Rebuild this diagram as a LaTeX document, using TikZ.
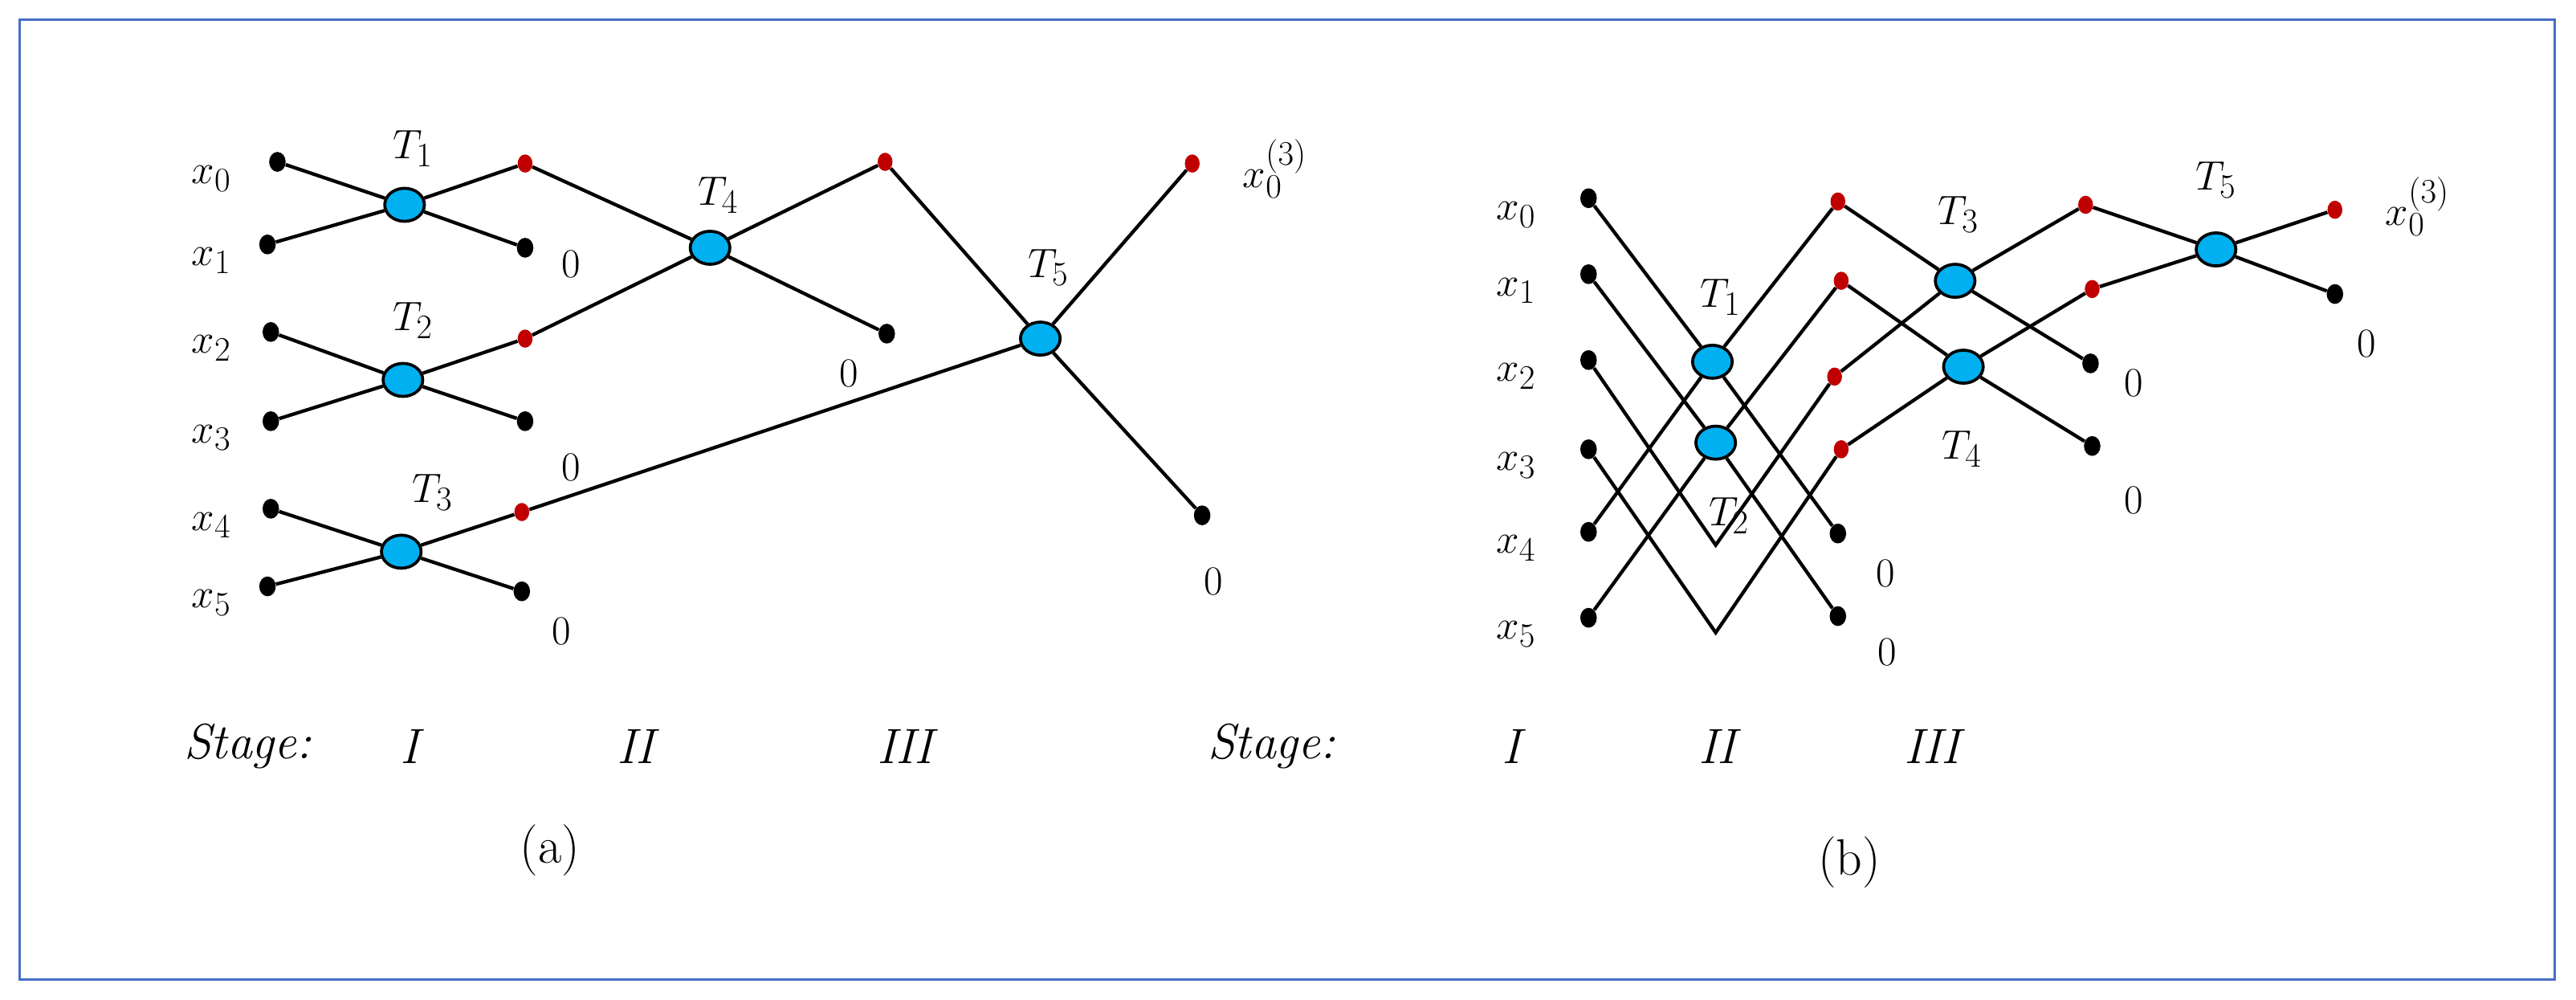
\documentclass[tikz,border=0pt]{standalone}
\usepackage{tikz}
\usetikzlibrary{positioning,shapes.geometric}
\definecolor{tw}{RGB}{0,176,240}
\definecolor{dr}{RGB}{192,0,0}
\definecolor{frame}{RGB}{70,110,200}
\tikzset{
   bdot/.style = {%
    shape=ellipse, fill=black, inner sep=0pt,
    minimum width=10pt, minimum height=12pt},
   rdot/.style = {%
    shape=ellipse, fill=dr, inner sep=0pt,
    minimum width=9pt, minimum height=11pt},
  tnode/.style = {%
    shape=ellipse, fill=tw, draw=black, line width=1.8pt, inner sep=0pt,
    minimum width=24pt, minimum height=20pt},
   lab/.style = {font=\fontsize{31}{36}\selectfont, inner sep=0pt},
   stg/.style = {font=\fontsize{30}{36}\selectfont\itshape, inner sep=0pt},
  wire/.style = {line width=2.1pt},
}
\begin{document}
\begin{tikzpicture}[x=1pt, y=-1pt]
    \useasboundingbox (0,0) rectangle (1560,605);
    \draw[frame, line width=1.5pt] (12,12) rectangle (1547,593);
    % (a)
    \foreach \i/\x/\y in {0/168/98, 1/162/148, 2/164/201, 3/164/255, 4/164/308, 5/162/355} {
        \node[bdot] (ax\i) at (\x,\y) {};
        \node[lab] at (128,\y+10) {$x_{\i}$};
    }
    \node[tnode] (aT1) at (245,124) {};
    \node[tnode] (aT2) at (244,230) {};
    \node[tnode] (aT3) at (243,334) {};
    \node[tnode] (aT4) at (430,150) {};
    \node[tnode] (aT5) at (630,205) {};
    \node[rdot] (ar1) at (318,99) {};
    \node[rdot] (ar2) at (318,205) {};
    \node[rdot] (ar3) at (316,310) {};
    \node[rdot] (ar4) at (536,98) {};
    \node[rdot] (ar5) at (722,99) {};
    \node[bdot] (az1) at (318,150) {};
    \node[bdot] (az2) at (318,255) {};
    \node[bdot] (az3) at (316,358) {};
    \node[bdot] (az4) at (537,202) {};
    \node[bdot] (az5) at (728,312) {};
    \begin{scope}[wire]
        \draw (ax0) -- (aT1) -- (az1);  \draw (ax1) -- (aT1) -- (ar1);
        \draw (ax2) -- (aT2) -- (az2);  \draw (ax3) -- (aT2) -- (ar2);
        \draw (ax4) -- (aT3) -- (az3);  \draw (ax5) -- (aT3) -- (ar3);
        \draw (ar1) -- (aT4) -- (az4);  \draw (ar2) -- (aT4) -- (ar4);
        \draw (ar4) -- (aT5) -- (az5);  \draw (ar3) -- (aT5) -- (ar5);
    \end{scope}
    \node[lab] at (250,90) {$T_1$};
    \node[lab] at (250,194) {$T_2$};
    \node[lab] at (262,298) {$T_3$};
    \node[lab] at (435,118) {$T_4$};
    \node[lab] at (635,162) {$T_5$};
    \foreach \x/\y in {346/160, 346/283, 340/382, 514/226, 735/352}
        \node[lab] at (\x,\y) {$0$};
    \node[lab] at (772,102) {$x_0^{(3)}$};
    \node[stg] at (150,452) {Stage:};
    \node[stg] at (248,452) {I};
    \node[stg] at (385,452) {II};
    \node[stg] at (548,452) {III};
    \node[lab] at (333,515) {(a)};
    % (b)
    \foreach \i/\y in {0/120, 1/166, 2/218, 3/272, 4/322, 5/374} {
        \node[bdot] (bx\i) at (962,\y) {};
        \node[lab] at (918,\y+10) {$x_{\i}$};
    }
    \node[tnode] (bT1) at (1037,219) {};
    \node[tnode] (bT2) at (1039,268) {};
    \node[tnode] (bT3) at (1184,170) {};
    \node[tnode] (bT4) at (1189,222) {};
    \node[tnode] (bT5) at (1342,151) {};
    \coordinate (bv1) at (1039,330);
    \coordinate (bv2) at (1039,383);
    \node[rdot] (br1) at (1113,122) {};
    \node[rdot] (br2) at (1115,170) {};
    \node[rdot] (br3) at (1111,228) {};
    \node[rdot] (br4) at (1115,272) {};
    \node[rdot] (br5) at (1263,124) {};
    \node[rdot] (br6) at (1267,175) {};
    \node[rdot] (br7) at (1414,127) {};
    \node[bdot] (bz1) at (1113,323) {};
    \node[bdot] (bz2) at (1113,373) {};
    \node[bdot] (bz3) at (1266,220) {};
    \node[bdot] (bz4) at (1267,270) {};
    \node[bdot] (bz5) at (1414,178) {};
    \begin{scope}[wire]
        \draw (bx0) -- (bT1) -- (bz1);  \draw (bx4) -- (bT1) -- (br1);
        \draw (bx1) -- (bT2) -- (bz2);  \draw (bx5) -- (bT2) -- (br2);
        \draw (bx2) -- (bv1) -- (br3);  \draw (bx3) -- (bv2) -- (br4);
        \draw (br1) -- (bT3) -- (bz3);  \draw (br3) -- (bT3) -- (br5);
        \draw (br2) -- (bT4) -- (bz4);  \draw (br4) -- (bT4) -- (br6);
        \draw (br5) -- (bT5) -- (bz5);  \draw (br6) -- (bT5) -- (br7);
    \end{scope}
    \node[lab] at (1042,180) {$T_1$};
    \node[lab] at (1047,312) {$T_2$};
    \node[lab] at (1186,130) {$T_3$};
    \node[lab] at (1188,272) {$T_4$};
    \node[lab] at (1342,109) {$T_5$};
    \foreach \x/\y in {1142/347, 1143/395, 1292/232, 1292/303, 1433/208}
        \node[lab] at (\x,\y) {$0$};
    \node[lab] at (1464,125) {$x_0^{(3)}$};
    \node[stg] at (770,452) {Stage:};
    \node[stg] at (915,452) {I};
    \node[stg] at (1040,452) {II};
    \node[stg] at (1170,452) {III};
    \node[lab] at (1120,522) {(b)};
\end{tikzpicture}
\end{document}
